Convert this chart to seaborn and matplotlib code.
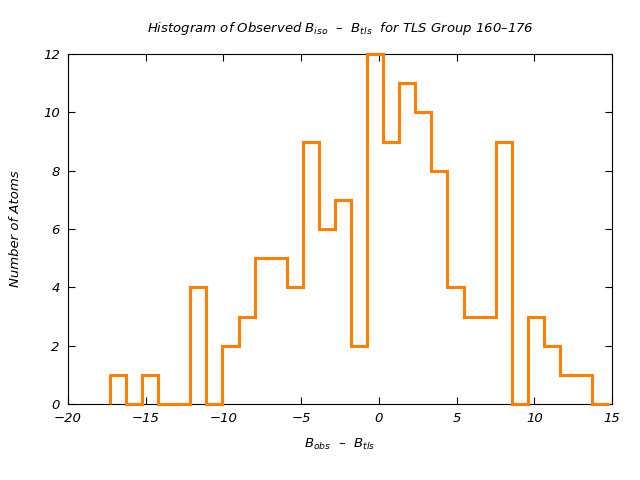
import numpy as np
import pandas as pd
import matplotlib
matplotlib.use("Agg")
import matplotlib.pyplot as plt
import seaborn as sns

# Data
bin_start = -17.30
bin_width = 1.034
counts = [1, 0, 1, 0, 0, 4, 0, 2, 3, 5, 5, 4, 9, 6, 7, 2,
          12, 9, 11, 10, 8, 4, 3, 3, 9, 0, 3, 2, 1, 1, 0]
x_ticks = [-20, -15, -10, -5, 0, 5, 10, 15]
y_ticks = [0, 2, 4, 6, 8, 10, 12]

edges = (bin_start + bin_width * np.arange(len(counts) + 1)).tolist()
centers = [(a + b) / 2 for a, b in zip(edges[:-1], edges[1:])]
df = pd.DataFrame({"diff": centers, "n": counts})

sns.set_style("white")
plt.rcParams["font.family"] = ["DejaVu Sans"]
plt.rcParams["mathtext.fontset"] = "dejavusans"
plt.rcParams["text.color"] = "black"
plt.rcParams["axes.labelcolor"] = "black"
plt.rcParams["xtick.color"] = "black"
plt.rcParams["ytick.color"] = "black"

fig = plt.figure(figsize=(6.4, 4.8), dpi=100)
ax = fig.add_axes([68 / 640, 1 - 404 / 480, (612 - 68) / 640, (404 - 54) / 480])

color = "#FF8000"
lw = 2.2
sns.histplot(data=df, x="diff", weights="n", bins=edges, element="step",
             fill=False, color=color, linewidth=lw, ax=ax)
for ln in ax.lines:
    ln.set_clip_on(False)
    ln.set_zorder(5)
    ln.set_solid_joinstyle("miter")
# rising edge of the first bin from the baseline
ax.plot([edges[0], edges[0]], [0, counts[0]], color=color, linewidth=lw,
        clip_on=False, zorder=5, solid_capstyle="butt")

ax.set_xlim(-20, 15)
ax.set_ylim(0, 12)
ax.set_xticks(x_ticks)
ax.set_yticks(y_ticks)
ax.set_xticklabels([f"{t}".replace("-", "\u2212") for t in x_ticks], fontstyle="italic", fontsize=9.5)
ax.set_yticklabels([str(t) for t in y_ticks], fontstyle="italic", fontsize=9.5)
ax.tick_params(direction="in", top=True, right=True, length=5, width=0.8, pad=6,
               bottom=True, left=True, colors="black")
for s in ax.spines.values():
    s.set_color("black")
    s.set_linewidth(0.8)
    s.set_zorder(1)

ax.set_xlabel("$B_{obs}$  \u2013  $B_{tls}$", fontsize=9.5, fontstyle="italic", labelpad=8)
ax.set_ylabel("Number of Atoms", fontsize=9.5, fontstyle="italic", labelpad=15)
ax.set_title("Histogram of Observed $B_{iso}$  \u2013  $B_{tls}$  for TLS Group 160\u2013176",
             fontsize=9.5, fontstyle="italic", pad=16, color="black")

fig.savefig("out.png", dpi=100)
